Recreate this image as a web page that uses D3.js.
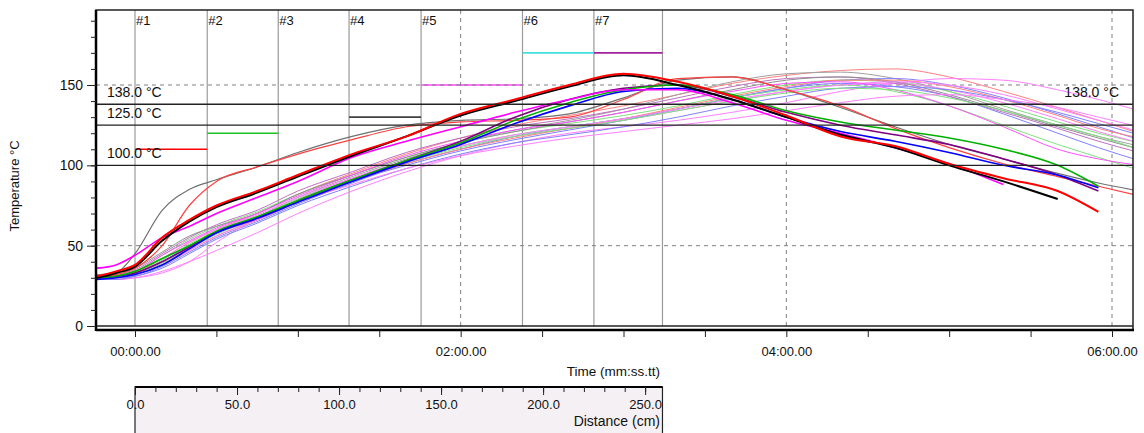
<!DOCTYPE html>
<html>
<head>
<meta charset="utf-8">
<script src="https://cdn.jsdelivr.net/npm/d3@7"></script>
<style>
  body { margin: 0; background: #fff; }
  text { font-family: "Liberation Sans", Arial, sans-serif; font-size: 13px; fill: #111; }
</style>
</head>
<body>
<div id="container"></div>
<script>
let w = 1144;
let h = 433;

// sample times (s) shared by every probe
let times = [-14, -7, 0, 10, 20, 30, 45, 60, 80, 100, 120, 140, 160, 180, 200, 220, 240, 260, 280, 300, 320, 340, 355, 370];

// slow probes (thin)
let s01 = [30, 31, 33, 42, 52, 60, 70, 82, 95, 107, 117, 125, 131, 137, 144, 151, 156, 159, 160, 155, 146, 136, 128, 120];
let s02 = [29, 30, 32, 40, 50, 58, 68, 80, 93, 104, 114, 122, 128, 135, 144, 152, 157, 158, 154, 146, 135, 125, 118, 112];
let s03 = [30, 30, 31, 37, 46, 55, 65, 76, 89, 101, 110, 118, 124, 129, 135, 142, 148, 153, 154, 150, 142, 132, 124, 116];
let s04 = [31, 32, 34, 44, 54, 62, 71, 82, 94, 105, 114, 121, 126, 131, 137, 144, 150, 153, 152, 146, 137, 127, 120, 114];
let s05 = [29, 29, 30, 34, 40, 47, 58, 70, 84, 96, 106, 114, 120, 124, 128, 133, 139, 146, 151, 154, 153, 147, 141, 134];
let s06 = [29, 29, 30, 33, 40, 52, 67, 79, 92, 103, 112, 118, 123, 128, 134, 140, 146, 150, 151, 147, 139, 129, 121, 114];
let s07 = [30, 31, 33, 40, 50, 58, 66, 77, 90, 100, 109, 116, 122, 128, 135, 142, 148, 151, 149, 143, 132, 120, 111, 103];
let s08 = [31, 32, 35, 45, 55, 63, 72, 84, 96, 108, 117, 124, 129, 135, 142, 149, 154, 155, 151, 143, 133, 123, 115, 108];
let s09 = [30, 30, 32, 39, 48, 57, 67, 79, 91, 102, 112, 119, 124, 129, 135, 142, 147, 150, 146, 137, 125, 113, 105, 97];
let s10 = [32, 33, 36, 46, 56, 62, 70, 82, 94, 105, 114, 121, 127, 133, 140, 147, 153, 155, 152, 144, 134, 124, 117, 110];
let s11 = [30, 31, 32, 38, 47, 56, 66, 78, 90, 101, 110, 117, 123, 129, 136, 143, 149, 153, 153, 149, 141, 131, 123, 117];
let s12 = [31, 32, 34, 42, 52, 60, 69, 80, 92, 103, 112, 119, 124, 129, 135, 141, 146, 150, 152, 150, 144, 135, 128, 121];
let s13 = [29, 29, 31, 36, 45, 54, 64, 75, 87, 98, 107, 114, 119, 124, 130, 137, 143, 148, 149, 147, 141, 133, 126, 119];
let s14 = [30, 31, 34, 44, 53, 61, 70, 81, 94, 106, 115, 122, 127, 133, 140, 146, 151, 152, 147, 137, 124, 110, 104, 100];
let s15 = [31, 31, 33, 41, 51, 59, 68, 79, 91, 102, 111, 118, 123, 128, 134, 140, 145, 148, 147, 142, 134, 125, 118, 110];
let s16 = [30, 30, 32, 38, 47, 56, 66, 77, 88, 98, 106, 112, 117, 121, 125, 129, 134, 139, 143, 144, 141, 136, 130, 124];

// early risers that peak around 3:25
let midGray = [31, 33, 45, 72, 85, 91, 99, 108, 118, 125, 128, 129, 132, 142, 153, 155, 147, 136, 124, 113, 104, 95, 89, 84];
let midRed  = [30, 32, 36, 50, 75, 90, 99, 107, 116, 124, 127, 128, 130, 141, 154, 155, 147, 137, 123, 111, 101, 93, 87, 81];

// fast probes (thick)
let fastPurple  = [30, 31, 33, 40, 49, 58, 67, 78, 91, 103, 115, 130, 141, 148, 150, 143, 133, 125, 119, 113, 104, 94, 84, null];
let fastGreen   = [30, 31, 34, 42, 50, 59, 68, 78, 91, 103, 114, 128, 139, 147, 150, 144, 134, 127, 122, 117, 110, 100, 87, null];
let fastBlue    = [29, 30, 32, 38, 48, 58, 67, 77, 90, 102, 113, 126, 137, 146, 148, 141, 130, 121, 115, 108, 100, 94, 86, null];
let fastMagenta = [36, 38, 44, 55, 62, 70, 80, 90, 105, 115, 124, 133, 141, 147, 147, 139, 128, 120, 111, 101, 88, null, null, null];
let fastBlack   = [30, 33, 37, 53, 65, 74, 83, 93, 106, 118, 131, 140, 149, 156, 150, 141, 130, 119, 111, 100, 90, 79, null, null];
let fastRed     = [31, 34, 38, 55, 66, 75, 84, 94, 107, 118, 132, 141, 150, 157, 152, 143, 131, 118, 112, 101, 92, 84, 71, null];

let probes = [s01, s02, s03, s04, s05, s06, s07, s08, s09, s10, s11, s12, s13, s14, s15, s16,
              midGray, midRed, fastPurple, fastGreen, fastBlue, fastMagenta, fastBlack, fastRed];
let probeColors = ['#ff8080', '#a0a0a0', '#8080ff', '#80e080', '#ff80ff', '#ff80ff', '#8080ff', '#c070c0',
                   '#80e080', '#909090', '#ff8080', '#ff80ff', '#8080ff', '#ff50ff', '#80e080', '#ff80ff',
                   '#707070', '#ff4040', '#800080', '#00b000', '#0000ff', '#ff00ff', '#000000', '#ff0000'];
let probeWidths = [1, 1, 1, 1, 1, 1, 1, 1, 1, 1, 1, 1, 1, 1, 1, 1,
                   1.2, 1.2, 1.6, 1.6, 1.6, 1.6, 2, 2];

// oven zones
let zoneNames = ['#1', '#2', '#3', '#4', '#5', '#6', '#7'];
let zoneEdgesCm = [0, 35.4, 70.2, 104.9, 140.2, 189.9, 224.9, 258.5];
let zoneSetpoints = [110, 120, null, 130, 150, 170, 170];
let zoneColors = ['#ff0000', '#20c020', null, '#404040', '#ff40ff', '#40e0e0', '#a020a0'];
let conveyorSpeed = 79.8; // cm/min

// limit lines
let limitValues = [138, 125, 100];
let limitLabels = ['138.0 °C', '125.0 °C', '100.0 °C'];

// ticks
let yMajorTicks = [0, 50, 100, 150];
let timeLabelValues = [0, 120, 240, 360];
let timeTickLabels = ['00:00.00', '02:00.00', '04:00.00', '06:00.00'];
let distTicks = [0, 50, 100, 150, 200, 250];

let plotLeft = 96, plotRight = 1133, plotTop = 10, plotBottom = 330;

let svg = d3.select('#container')
  .append('svg')
    .attr('width', w)
    .attr('height', h)
    .style('background-color', '#fff');

let x = d3.scaleLinear().domain([0, 360]).range([135, 1112]);
let y = d3.scaleLinear().domain([0, 150]).range([326, 85]);
let tOf = cm => cm / conveyorSpeed * 60;

svg.append('clipPath').attr('id', 'plotclip')
  .append('rect')
    .attr('x', plotLeft).attr('y', plotTop)
    .attr('width', plotRight - plotLeft).attr('height', plotBottom - plotTop);

let plot = svg.append('g').attr('clip-path', 'url(#plotclip)');

// zone boundaries
plot.append('g').selectAll('line').data(zoneEdgesCm).enter().append('line')
  .attr('x1', d => x(tOf(d))).attr('x2', d => x(tOf(d)))
  .attr('y1', plotTop).attr('y2', y(0))
  .attr('stroke', '#9a9a9a').attr('stroke-width', 1.2);

// setpoints
let spG = plot.append('g');
zoneSetpoints.forEach(function(v, i) {
  if (v == null) return;
  spG.append('line')
    .attr('x1', x(tOf(zoneEdgesCm[i]))).attr('x2', x(tOf(zoneEdgesCm[i + 1])))
    .attr('y1', y(v)).attr('y2', y(v))
    .attr('stroke', zoneColors[i]).attr('stroke-width', 1.6);
});

// dashed grid
plot.append('g').selectAll('line').data([50, 150]).enter().append('line')
  .attr('x1', plotLeft).attr('x2', plotRight)
  .attr('y1', d => y(d)).attr('y2', d => y(d))
  .attr('stroke', '#808080').attr('stroke-dasharray', '4,4');
plot.append('g').selectAll('line').data([120, 240, 360]).enter().append('line')
  .attr('x1', d => x(d)).attr('x2', d => x(d))
  .attr('y1', plotTop).attr('y2', y(0))
  .attr('stroke', '#808080').attr('stroke-dasharray', '4,4');

// probe curves
let line = d3.line()
  .defined(d => d[1] != null)
  .x(d => x(d[0]))
  .y(d => y(d[1]))
  .curve(d3.curveMonotoneX);

plot.append('g').selectAll('path').data(probes).enter().append('path')
  .attr('d', d => line(d.map((v, i) => [times[i], v])))
  .attr('fill', 'none')
  .attr('stroke', (d, i) => probeColors[i])
  .attr('stroke-width', (d, i) => probeWidths[i])
  .attr('stroke-linejoin', 'round');

// limit lines and zero line
plot.append('g').selectAll('line').data(limitValues.concat([0])).enter().append('line')
  .attr('x1', plotLeft).attr('x2', plotRight)
  .attr('y1', d => y(d)).attr('y2', d => y(d))
  .attr('stroke', '#222').attr('stroke-width', 1.4);

svg.append('g').selectAll('text').data(limitLabels).enter().append('text')
  .attr('x', 107)
  .attr('y', (d, i) => y(limitValues[i]) - 7)
  .style('font-size', '14px')
  .text(d => d);
svg.append('text')
  .attr('x', 1119).attr('y', y(limitValues[0]) - 7)
  .attr('text-anchor', 'end')
  .style('font-size', '14px')
  .text(limitLabels[0]);

// zone labels
svg.append('g').selectAll('text').data(zoneNames).enter().append('text')
  .attr('x', (d, i) => x(tOf(zoneEdgesCm[i])) + 1)
  .attr('y', 25)
  .text(d => d);

// frame
svg.append('rect')
  .attr('x', plotLeft).attr('y', plotTop)
  .attr('width', plotRight - plotLeft).attr('height', plotBottom - plotTop)
  .attr('fill', 'none').attr('stroke', '#222').attr('stroke-width', 1.5);
svg.append('line').attr('x1', plotLeft).attr('x2', plotLeft).attr('y1', plotTop).attr('y2', plotBottom + 1)
  .attr('stroke', '#000').attr('stroke-width', 2.5);
svg.append('line').attr('x1', plotLeft).attr('x2', plotRight + 1).attr('y1', plotBottom).attr('y2', plotBottom)
  .attr('stroke', '#000').attr('stroke-width', 2.5);

// y axis
let yAxis = d3.axisLeft(y).tickValues(yMajorTicks).tickSize(9).tickPadding(4);
let yG = svg.append('g').attr('transform', 'translate(' + plotLeft + ',0)').call(yAxis);
yG.select('.domain').remove();
let yMinor = d3.axisLeft(y).tickValues(d3.range(0, 200, 10)).tickSize(5).tickFormat('');
let yMG = svg.append('g').attr('transform', 'translate(' + plotLeft + ',0)').call(yMinor);
yMG.select('.domain').remove();
svg.selectAll('.tick line').attr('stroke', '#222');
yG.selectAll('text').style('font-size', '14px').attr('fill', '#111');

svg.append('text')
  .attr('transform', 'translate(19,186) rotate(-90)')
  .attr('text-anchor', 'middle')
  .style('font-size', '13px')
  .text('Temperature °C');

// x axis
let xAxis = d3.axisBottom(x).tickValues(d3.range(0, 361, 30)).tickSize(7).tickPadding(10)
  .tickFormat(d => {
    let k = timeLabelValues.indexOf(d);
    return k >= 0 ? timeTickLabels[k] : '';
  });
let xG = svg.append('g').attr('transform', 'translate(0,' + plotBottom + ')').call(xAxis);
xG.select('.domain').remove();
xG.selectAll('line').attr('stroke', '#222');
xG.selectAll('text').style('font-size', '13px').attr('fill', '#111');

svg.append('text')
  .attr('x', 660).attr('y', 376)
  .attr('text-anchor', 'end')
  .style('font-size', '13.5px')
  .text('Time (mm:ss.tt)');

// distance box
let dx = d3.scaleLinear().domain([0, 250]).range([x(tOf(0)), x(tOf(250))]);
let boxTop = 387;
let boxRight = x(tOf(zoneEdgesCm[zoneEdgesCm.length - 1]));
svg.append('rect')
  .attr('x', dx(0)).attr('y', boxTop)
  .attr('width', boxRight - dx(0))
  .attr('height', h - boxTop + 5)
  .attr('fill', '#f5f0f4').attr('stroke', '#222').attr('stroke-width', 1.2);
svg.append('line')
  .attr('x1', dx(0)).attr('x2', boxRight)
  .attr('y1', boxTop).attr('y2', boxTop)
  .attr('stroke', '#000').attr('stroke-width', 2.2);

let dMinor = d3.axisBottom(dx).tickValues(d3.range(0, 251, 10)).tickSize(5).tickFormat('');
let dMG = svg.append('g').attr('transform', 'translate(0,' + boxTop + ')').call(dMinor);
dMG.select('.domain').remove();
let dAxis = d3.axisBottom(dx).tickValues(distTicks).tickSize(8).tickPadding(5).tickFormat(d3.format('.1f'));
let dG = svg.append('g').attr('transform', 'translate(0,' + boxTop + ')').call(dAxis);
dG.select('.domain').remove();
svg.selectAll('.tick line').attr('stroke', '#222');
dG.selectAll('text').style('font-size', '13px').attr('fill', '#111');

svg.append('text')
  .attr('x', 660).attr('y', 426)
  .attr('text-anchor', 'end')
  .style('font-size', '14px')
  .text('Distance (cm)');
</script>
</body>
</html>
